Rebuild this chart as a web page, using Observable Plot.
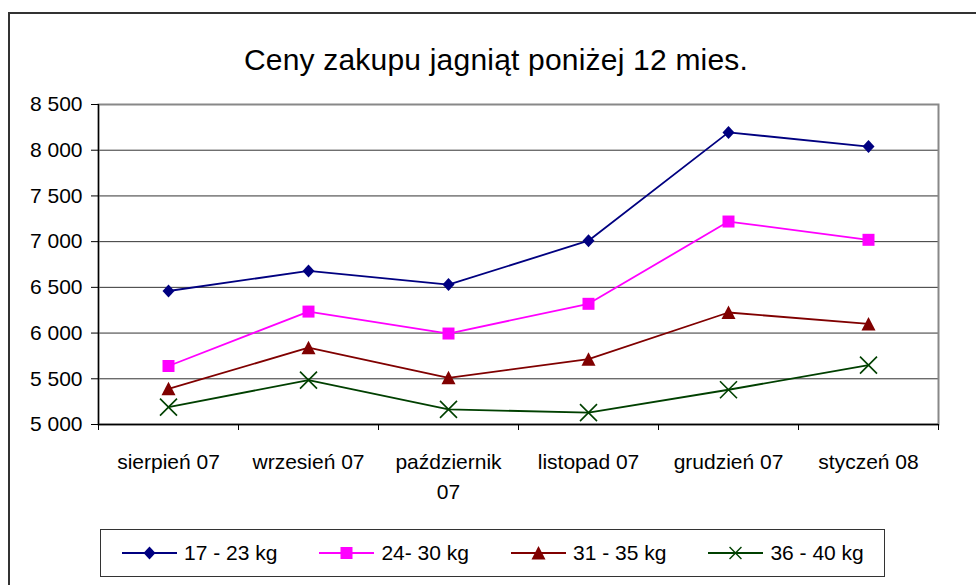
<!DOCTYPE html>
<html><head><meta charset="utf-8">
<script src="https://cdn.jsdelivr.net/npm/d3@7"></script>
<script src="https://cdn.jsdelivr.net/npm/@observablehq/plot@0.6"></script>
<style>
body{margin:0;background:#fff;font-family:"Liberation Sans",Arial,sans-serif;color:#000;}
#wrap{position:relative;width:976px;height:585px;overflow:hidden;background:#fff;}
#border{position:absolute;left:8px;top:12px;width:1100px;height:700px;border:2px solid #333;box-sizing:border-box;}
#title{position:absolute;left:0px;width:992px;top:42px;text-align:center;font-size:30px;line-height:36px;white-space:nowrap;letter-spacing:0.2px;}
#chart{position:absolute;left:0;top:90px;}
#legend{position:absolute;left:100px;top:529px;width:785px;height:48px;border:1.5px solid #333;box-sizing:border-box;display:flex;align-items:center;padding-left:21px;gap:42px;font-size:21px;white-space:nowrap;}
.item{display:flex;align-items:center;}
.item svg{margin-right:7px;}
</style>
</head><body>
<div id="wrap">
  <div id="border"></div>
  <div id="title">Ceny zakupu jagniąt poniżej 12 mies.</div>
  <div id="chart"></div>
  <div id="legend"></div>
</div>
<script>
const months = ["sierpień 07", "wrzesień 07", "październik\n07", "listopad 07", "grudzień 07", "styczeń 08"];
const seriesNames = ["17 - 23 kg", "24- 30 kg", "31 - 35 kg", "36 - 40 kg"];
const s1 = [6460, 6680, 6530, 7010, 8195, 8040];
const s2 = [5640, 6235, 5995, 6320, 7220, 7020];
const s3 = [5390, 5840, 5510, 5715, 6225, 6100];
const s4 = [5190, 5485, 5165, 5130, 5380, 5650];
const yTicks = [5000, 5500, 6000, 6500, 7000, 7500, 8000, 8500];
const colors = ["#000080", "#ff00ff", "#800000", "#004000"];

const symDiamond = {draw(c){c.moveTo(0,-6.5);c.lineTo(6,0);c.lineTo(0,6.5);c.lineTo(-6,0);c.closePath();}};
const symSquare = {draw(c){c.rect(-6,-6,12,12);}};
const symTriangle = {draw(c){c.moveTo(0,-7);c.lineTo(7,6.5);c.lineTo(-7,6.5);c.closePath();}};
const symCross = {draw(c){c.moveTo(-8.5,-8.5);c.lineTo(8.5,8.5);c.moveTo(8.5,-8.5);c.lineTo(-8.5,8.5);}};
const symbols = [symDiamond, symSquare, symTriangle, symCross];

const allSeries = [s1, s2, s3, s4];
const data = allSeries.map((s, k) => s.map((v, i) => ({i, v, k})));
const boundaries = d3.range(months.length + 1).map(i => i - 0.5);
const fmt = d => d3.format(",")(d).replace(",", " ");

const marks = [
  Plot.gridY(yTicks, {stroke: "#333", strokeOpacity: 1, strokeWidth: 1}),
  Plot.frame({stroke: "#888", strokeWidth: 2}),
  Plot.axisY({ticks: yTicks, tickSize: 7, tickPadding: 9, tickFormat: fmt, fill: "#000", stroke: "#000", label: null}),
  Plot.axisX({ticks: boundaries, tickSize: 6, tickFormat: () => "", stroke: "#000", label: null}),
  Plot.axisX({ticks: d3.range(months.length), tickSize: 0, tickPadding: 24, tickFormat: i => months[i], lineHeight: 1.4, fill: "#000", label: null}),
  Plot.ruleX([-0.5], {stroke: "#000", strokeWidth: 1.3}),
  Plot.ruleY([5000], {stroke: "#000", strokeWidth: 1.3})
];
data.forEach((d, k) => {
  marks.push(Plot.line(d, {x: "i", y: "v", stroke: colors[k], strokeWidth: 1.8}));
  if (k === 3) marks.push(Plot.dot(d, {x: "i", y: "v", symbol: symbols[k], stroke: colors[k], fill: "none", strokeWidth: 1.6}));
  else marks.push(Plot.dot(d, {x: "i", y: "v", symbol: symbols[k], fill: colors[k], stroke: "none"}));
});

const chart = Plot.plot({
  width: 976, height: 420,
  marginLeft: 98, marginRight: 38, marginTop: 14, marginBottom: 86,
  x: {type: "linear", domain: [-0.5, months.length - 0.5], label: null},
  y: {domain: [5000, 8500], label: null},
  style: {fontSize: "21px", fontFamily: "'Liberation Sans', Arial, sans-serif", color: "#000", background: "transparent", overflow: "visible"},
  marks
});
document.getElementById("chart").appendChild(chart);

const legend = document.getElementById("legend");
seriesNames.forEach((name, k) => {
  const item = document.createElement("div");
  item.className = "item";
  const ns = "http://www.w3.org/2000/svg";
  const svg = document.createElementNS(ns, "svg");
  svg.setAttribute("width", 55); svg.setAttribute("height", 20);
  const line = document.createElementNS(ns, "line");
  line.setAttribute("x1", 0); line.setAttribute("x2", 55); line.setAttribute("y1", 10); line.setAttribute("y2", 10);
  line.setAttribute("stroke", colors[k]); line.setAttribute("stroke-width", 1.8);
  svg.appendChild(line);
  const path = document.createElementNS(ns, "path");
  const p = d3.path(); symbols[k].draw(p);
  path.setAttribute("d", p.toString());
  path.setAttribute("transform", k === 3 ? "translate(27.5,10) scale(0.7)" : "translate(27.5,10)");
  if (k === 3) { path.setAttribute("stroke", colors[k]); path.setAttribute("fill", "none"); path.setAttribute("stroke-width", 2); }
  else path.setAttribute("fill", colors[k]);
  svg.appendChild(path);
  item.appendChild(svg);
  const span = document.createElement("span");
  span.textContent = name;
  item.appendChild(span);
  legend.appendChild(item);
});
</script>
</body></html>
